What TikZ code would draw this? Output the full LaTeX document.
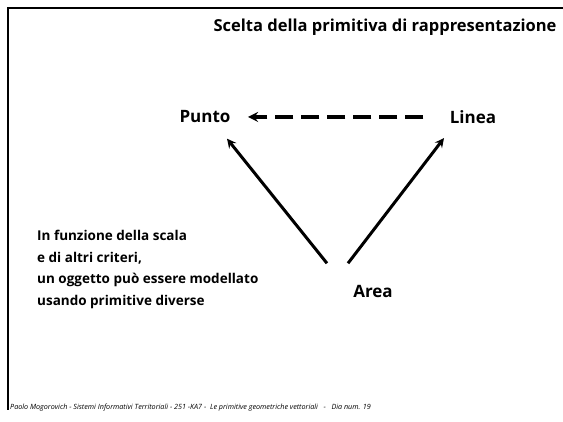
\documentclass[tikz,border=0pt]{standalone}
\usepackage{fontspec}
\setmainfont{Open Sans}

\begin{document}
\begin{tikzpicture}[x=1pt, y=-1pt,
    lbl/.style={font=\fontsize{17}{19}\selectfont\bfseries},
    arr/.style={-stealth, line width=3pt},
    darr/.style={-stealth, line width=3.4pt, dash pattern=on 18pt off 8pt}]
    \useasboundingbox (0,0) rectangle (563,422);

    % Frame and title
    \draw[line width=2pt] (8,410) -- (8,8) -- (563,8);
    \node[anchor=east, font=\fontsize{16.5}{19}\selectfont\bfseries] (title) at (560,27) {Scelta della primitiva di rappresentazione};

    % Primitives
    \node[lbl] (punto) at (205,117) {Punto};
    \node[lbl] (linea) at (473,117) {Linea};
    \node[lbl] (area) at (373,291) {Area};

    % Connectors
    \draw[darr] ([xshift=-23pt]linea.west) -- ([xshift=14pt]punto.east);
    \draw[arr] ([xshift=-46pt, yshift=18pt]area.north) -- ([xshift=22pt, yshift=-12pt]punto.south);
    \draw[arr] ([xshift=-25pt, yshift=18pt]area.north) -- ([xshift=-29pt, yshift=-11pt]linea.south);

    % Note on the left
    \node[anchor=north west, align=left, inner sep=0pt, font=\fontsize{13.5}{21.7}\selectfont\bfseries] (note) at (37,230)
        {In funzione della scala\\e di altri criteri,\\un oggetto può essere modellato\\usando primitive diverse};

    % Footer
    \node[anchor=west, inner sep=0pt, font=\fontsize{7.2}{8}\selectfont\itshape] (footer) at (10,408)
        {Paolo Mogorovich - Sistemi Informativi Territoriali - 251 -KA7 -\ \ Le primitive geometriche vettoriali\ \ \ -\ \ \ Dia num. 19};
\end{tikzpicture}
\end{document}
